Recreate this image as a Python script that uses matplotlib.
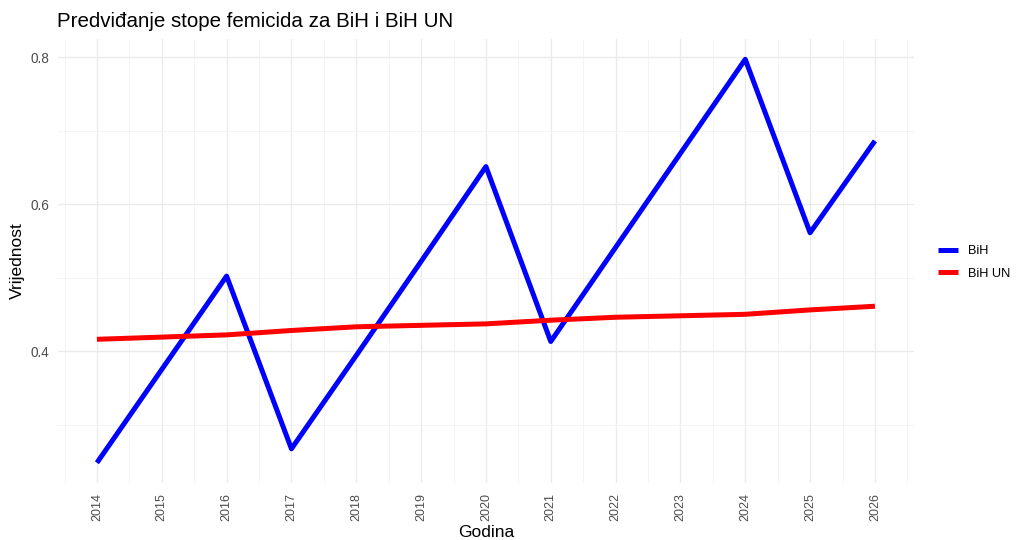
import matplotlib
matplotlib.use('Agg')
import matplotlib.pyplot as plt
import numpy as np

plt.rcParams['font.family'] = ['Liberation Sans', 'DejaVu Sans']

# podaci
years = list(range(2014, 2027))
bih = [0.248, 0.375, 0.502, 0.267, 0.394, 0.522, 0.651, 0.413, 0.541, 0.669, 0.797, 0.561, 0.686]
bih_un = [0.416, 0.419, 0.422, 0.428, 0.433, 0.435, 0.437, 0.442, 0.446, 0.448, 0.450, 0.456, 0.461]

fig = plt.figure(figsize=(10.2, 5.4), dpi=100)
ax = fig.add_axes([0.0569, 0.1056, 0.839, 0.822])

ax.plot(years, bih, color='blue', linewidth=3.6, label='BiH', solid_capstyle='butt')
ax.plot(years, bih_un, color='red', linewidth=3.6, label='BiH UN', solid_capstyle='butt')

ax.set_xlim(2013.4, 2026.6)
ax.set_ylim(0.2205, 0.8245)
ax.set_xticks(years)
ax.set_xticklabels([str(y) for y in years], rotation=90)
ax.set_xticks(np.arange(2013.5, 2027, 1), minor=True)
ax.set_yticks([0.4, 0.6, 0.8])
ax.set_yticklabels(['0.4', '0.6', '0.8'])
ax.set_yticks([0.3, 0.5, 0.7], minor=True)

ax.grid(which='major', color='#EBEBEB', linewidth=1.0)
ax.grid(which='minor', color='#F3F3F3', linewidth=0.6)
ax.set_axisbelow(True)
for s in ax.spines.values():
    s.set_visible(False)
ax.tick_params(which='both', length=0)
ax.tick_params(axis='x', labelsize=9, labelcolor='#4D4D4D', pad=7)
ax.tick_params(axis='y', labelsize=9.8, labelcolor='#4D4D4D', pad=6)

ax.set_xlabel('Godina', fontsize=12.5, labelpad=3)
ax.set_ylabel('Vrijednost', fontsize=12.5, labelpad=4)
ax.set_title('Predviđanje stope femicida za BiH i BiH UN', fontsize=14.8, loc='left', x=-0.001, pad=9)

fig.legend(loc='center left', bbox_to_anchor=(0.908, 0.514), frameon=False, fontsize=9.2,
           handlelength=1.6, handletextpad=0.8, labelspacing=0.85)

fig.savefig('out.png', dpi=100)
